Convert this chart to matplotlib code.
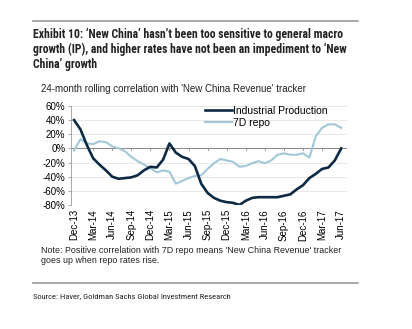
import matplotlib
matplotlib.use("Agg")
import matplotlib.pyplot as plt
from matplotlib.lines import Line2D

plt.rcParams['font.family'] = ['Liberation Sans', 'DejaVu Sans']

# monthly, Dec-13 .. Jun-17
months = ['Dec-13', 'Jan-14', 'Feb-14', 'Mar-14', 'Apr-14', 'May-14', 'Jun-14', 'Jul-14',
          'Aug-14', 'Sep-14', 'Oct-14', 'Nov-14', 'Dec-14', 'Jan-15', 'Feb-15', 'Mar-15',
          'Apr-15', 'May-15', 'Jun-15', 'Jul-15', 'Aug-15', 'Sep-15', 'Oct-15', 'Nov-15',
          'Dec-15', 'Jan-16', 'Feb-16', 'Mar-16', 'Apr-16', 'May-16', 'Jun-16', 'Jul-16',
          'Aug-16', 'Sep-16', 'Oct-16', 'Nov-16', 'Dec-16', 'Jan-17', 'Feb-17', 'Mar-17',
          'Apr-17', 'May-17', 'Jun-17']

industrial_production = [40, 27, 5, -14, -23, -31, -40, -43, -42, -41, -38, -31, -26, -27, -16,
                         7, -6, -12, -15, -25, -50, -63, -70, -74, -76, -77, -80, -74, -70,
                         -69, -69, -69, -69, -67, -65, -58, -52, -42, -36, -29, -27, -17, 0]

repo_7d = [-3, 13, 7, 6, 10, 9, 3, 0, -4, -12, -18, -23, -28, -34, -31, -33, -50, -46, -42,
           -39, -38, -29, -21, -15, -17, -19, -26, -25, -21, -18, -21, -17, -9, -7, -9, -9,
           -7, -13, 17, 29, 34, 34, 29]

tick_labels = months[::3]

navy = '#0c2a44'
light = '#a2c8d8'
condensed = ['Roboto Condensed', 'Liberation Sans']

fig = plt.figure(figsize=(4.12, 3.29), dpi=100)
ax = fig.add_axes([0.172, 0.377, 0.670, 0.301])

x = list(range(len(months)))
ax.plot(x, industrial_production, color=navy, lw=1.9, label='Industrial Production', zorder=3)
ax.plot(x, repo_7d, color=light, lw=1.5, label='7D repo', zorder=2)

ax.set_xlim(-0.5, 42.9)
ax.set_ylim(-80, 60)
ax.set_yticks(range(-80, 61, 20))
ax.set_yticklabels([f'{v}%' for v in range(-80, 61, 20)], fontsize=7)
ax.grid(axis='y', color='#e4e4e4', lw=0.6)
ax.set_axisbelow(True)

for s in ['top', 'right', 'bottom']:
    ax.spines[s].set_visible(False)
ax.spines['left'].set_color('#9a9a9a')
ax.spines['left'].set_linewidth(0.6)
ax.tick_params(axis='y', length=2, width=0.6, color='#9a9a9a', pad=2)

# zero line with quarterly ticks
ax.axhline(0, color='#8a8a8a', lw=0.7, zorder=1)
for i in x[::3]:
    ax.plot([i, i], [0, -2.2], color='#8a8a8a', lw=0.6, zorder=1)

ax.set_xticks(x[::3])
ax.set_xticklabels(tick_labels, rotation=90, fontsize=7)
ax.tick_params(axis='x', length=0, pad=3)

leg = ax.legend(loc='upper left', bbox_to_anchor=(0.47, 1.04), frameon=False, fontsize=7.5,
                handlelength=2.6, handletextpad=0.1, labelspacing=0.15, borderaxespad=0)

fig.add_artist(Line2D([0.08, 0.87], [0.937, 0.937], color='#9a9a9a', lw=1.2))
title = ("Exhibit 10: \u2018New China\u2019 hasn\u2019t been too sensitive to general macro\n"
         "growth (IP), and higher rates have not been an impediment to \u2018New\n"
         "China\u2019 growth")
fig.text(0.08, 0.915, title, fontsize=8.5, fontweight='bold', va='top', linespacing=1.15,
         family=condensed, color='#222222')

fig.text(0.1, 0.72, "24-month rolling correlation with 'New China Revenue' tracker",
         fontsize=7, color='#222222')

fig.text(0.1, 0.2, "Note: Positive correlation with 7D repo means 'New China Revenue' tracker\n"
         "goes up when repo rates rise.", fontsize=6.4, color='#222222', linespacing=1.2)

fig.add_artist(Line2D([0.08, 0.87], [0.14, 0.14], color='#9a9a9a', lw=1.2))
fig.text(0.08, 0.095, "Source: Haver, Goldman Sachs Global Investment Research", fontsize=6.1,
         family=condensed, color='#222222')

fig.savefig('out.png', dpi=100, facecolor='white')
